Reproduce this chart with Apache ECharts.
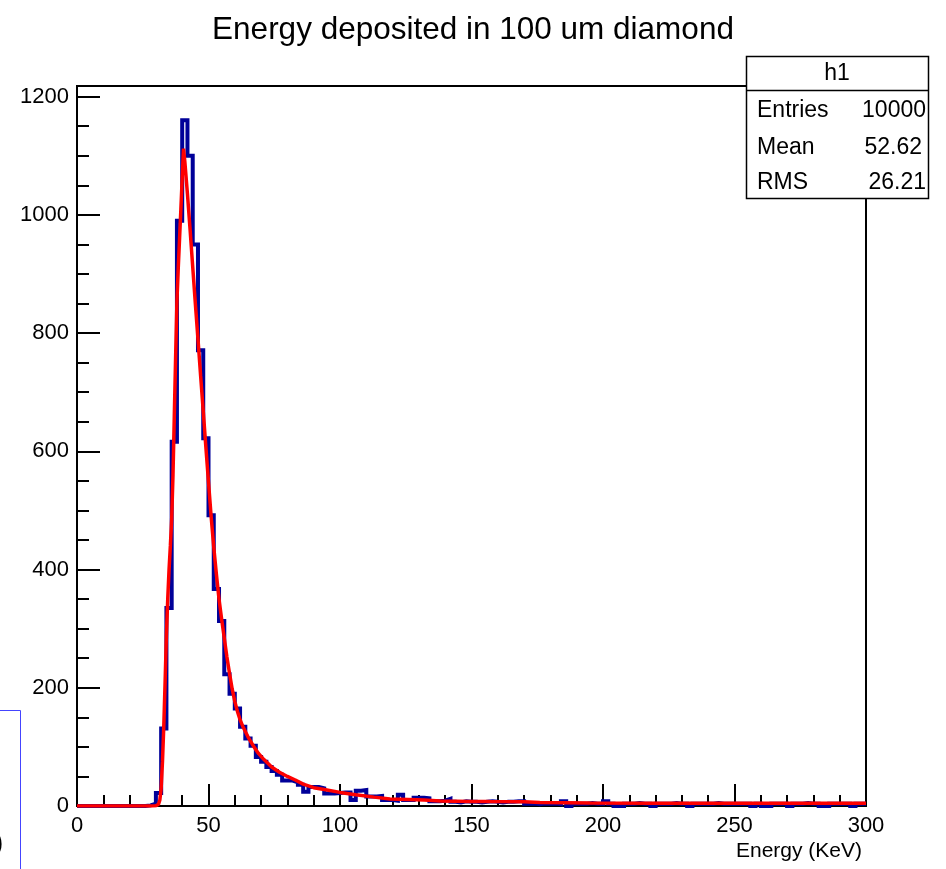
<!DOCTYPE html>
<html>
<head>
<meta charset="utf-8">
<script src="https://cdn.jsdelivr.net/npm/echarts@6/dist/echarts.min.js"></script>
<style>
  html, body { margin: 0; padding: 0; background: #fff; }
  #chart { width: 946px; height: 869px; }
</style>
</head>
<body>
<div id="chart"></div>
<script>
// ---------- data ----------
const titleText = 'Energy deposited in 100 um diamond';
const xAxisTitle = 'Energy (KeV)';
const histXMin = 0;
const histXMax = 300;
const binWidth = 2;
// counts per 2 keV bin, 0..300 keV (150 bins)
const counts = [
  0,0,0,0,0,0,0,0,0,0,            // 0-20
  0,0,0,1,4,22,131,335,616,990,   // 20-40
  1160,1100,950,771,622,492,367,313,223,190,  // 40-60
  165,134,114,102,83,75,66,59,53,43,          // 60-80
  43,40,36,24,32,32,30,21,21,22,              // 80-100
  23,23,10,26,27,16,16,17,10,10,              // 100-120
  9,19,10,10,14,14,13,8,8,9,                  // 120-140
  12,7,6,8,7,7,6,7,8,7,                       // 140-160
  6,7,7,8,8,4,4,3,4,4,                        // 160-180
  4,3,8,0,4,4,4,5,4,4,                        // 180-200
  8,4,0,0,4,4,5,4,4,0,                        // 200-220
  4,4,4,5,4,4,0,4,4,4,                        // 220-240
  4,5,4,4,4,4,4,4,0,4,                        // 240-260
  0,0,4,4,4,0,4,4,5,4,                        // 260-280
  4,0,0,4,4,4,4,0,4,4                         // 280-300
];
// fitted curve
const fitX = [0,10,20,28,30,30.5,31,31.5,32,32.5,33,33.5,34,34.5,35,35.5,36,36.5,37,37.5,38,38.5,39,39.5,40,40.5,
  41,42,43,44,45,46,47,48,49,50,51,52,53,54,55,56,57,58,59,60,61,62,63,65,67,69,71,74,77,80,83,86,90,94,
  100,106,113,119,126,132,138,150,157,170,176,195,220,250,300];
const fitY = [0,0,0,0,0.5,1,3,10,30,75,135,210,290,350,400,440,485,560,660,760,855,910,960,1010,1062,1112,
  1090,1035,975,912,850,790,728,668,607,548,490,438,392,350,316,284,252,224,198,177,160,146,135,117,102,89,79,66,57,50,44,37,31,28,
  23,19,15,12,11,10,8.5,7.8,7.5,7,6,5,4.7,4.5,4.5];
const yMax = 1218;
const yMajor = 200;
const yMinor = 50;
const xMajor = 50;
const stats = { name: 'h1', rows: [['Entries', '10000'], ['Mean', '52.62'], ['RMS', '26.21']] };

// ---------- build ----------
const histData = counts.map((c, i) => [histXMin + i * binWidth, c]);
histData.push([histXMax, counts[counts.length - 1]]);
const fitData = fitX.map((x, i) => [x, fitY[i]]);

const FONT = '"Liberation Sans", Arial, Helvetica, sans-serif';
const chart = echarts.init(document.getElementById('chart'), null, { renderer: 'canvas' });

const statRowsY = [111, 148, 183];
const statValRight = [926, 922, 926];
const graphics = [
  { type: 'rect', z: 100, shape: { x: 746.5, y: 56.5, width: 182, height: 142 },
    style: { fill: '#fff', stroke: '#000', lineWidth: 1.5 } },
  { type: 'line', z: 101, shape: { x1: 746.5, y1: 90.5, x2: 928.5, y2: 90.5 },
    style: { stroke: '#000', lineWidth: 1.5 } },
  { type: 'text', z: 102, x: 837, y: 74,
    style: { text: stats.name, font: '23px ' + FONT, fill: '#000', textAlign: 'center', textVerticalAlign: 'middle' } },
  { type: 'text', z: 10, x: 862, y: 851,
    style: { text: xAxisTitle, font: '21px ' + FONT, fill: '#000', textAlign: 'right', textVerticalAlign: 'middle' } },
  { type: 'rect', z: 10, shape: { x: -10, y: 710.5, width: 30.5, height: 200 },
    style: { fill: 'none', stroke: '#4444ff', lineWidth: 1 } },
  { type: 'text', z: 10, x: -6, y: 843,
    style: { text: ')', font: '28px ' + FONT, fill: '#000', textAlign: 'left', textVerticalAlign: 'middle' } }
];
stats.rows.forEach((r, i) => {
  graphics.push({ type: 'text', z: 102, x: 757, y: statRowsY[i],
    style: { text: r[0], font: '23px ' + FONT, fill: '#000', textAlign: 'left', textVerticalAlign: 'middle' } });
  graphics.push({ type: 'text', z: 102, x: statValRight[i], y: statRowsY[i],
    style: { text: r[1], font: '23px ' + FONT, fill: '#000', textAlign: 'right', textVerticalAlign: 'middle' } });
});

const axisLabelStyle = { color: '#000', fontSize: 22, fontFamily: FONT };

chart.setOption({
  animation: false,
  backgroundColor: '#fff',
  title: {
    text: titleText, left: 'center', top: 9,
    textStyle: { color: '#000', fontSize: 31.5, fontWeight: 'normal', fontFamily: FONT }
  },
  grid: { left: 77, right: 80, top: 86, bottom: 63, show: true, borderColor: '#000', borderWidth: 2, backgroundColor: 'transparent' },
  xAxis: {
    type: 'value', min: histXMin, max: histXMax, interval: xMajor,
    axisLine: { show: true, lineStyle: { color: '#000', width: 2 } },
    axisTick: { show: true, inside: true, length: 22, lineStyle: { color: '#000', width: 2 } },
    minorTick: { show: true, splitNumber: 5, length: 11, lineStyle: { color: '#000', width: 2 } },
    axisLabel: Object.assign({ margin: 9 }, axisLabelStyle),
    splitLine: { show: false }
  },
  yAxis: [
    {
      type: 'value', min: 0, max: yMax, interval: yMajor,
      axisLine: { show: true, lineStyle: { color: '#000', width: 2 } },
      axisTick: { show: true, inside: true, length: 23, lineStyle: { color: '#000', width: 2 } },
      axisLabel: Object.assign({ margin: 8, formatter: v => (v % yMajor === 0 ? String(v) : '') }, axisLabelStyle),
      splitLine: { show: false }
    },
    {
      type: 'value', min: 0, max: yMax, interval: yMinor, position: 'left', offset: 0,
      axisLine: { show: false },
      axisTick: { show: true, inside: true, length: 12, lineStyle: { color: '#000', width: 2 } },
      axisLabel: { show: false },
      splitLine: { show: false }
    }
  ],
  series: [
    {
      type: 'line', name: 'h1', data: histData, step: 'end', yAxisIndex: 0,
      symbol: 'none', showSymbol: false,
      lineStyle: { color: '#000099', width: 4, join: 'miter' },
      z: 3
    },
    {
      type: 'line', name: 'fit', data: fitData, yAxisIndex: 0,
      symbol: 'none', showSymbol: false, smooth: false,
      lineStyle: { color: '#ff0000', width: 3.5 },
      z: 4
    }
  ],
  graphic: graphics
});
</script>
</body>
</html>
